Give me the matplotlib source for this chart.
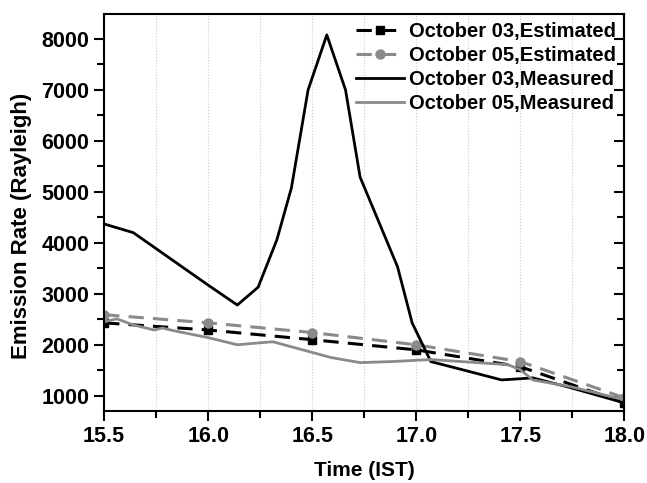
import numpy as np
import matplotlib.pyplot as plt
from matplotlib.ticker import MultipleLocator

plt.rcParams['font.family'] = ['Liberation Sans', 'DejaVu Sans']
plt.rcParams['font.weight'] = 'bold'

# measured, October 03
t_m03 = [15.5, 15.64, 16.0, 16.14, 16.24, 16.33, 16.40, 16.48, 16.57, 16.66, 16.73, 16.91, 16.98, 17.07, 17.26, 17.41, 17.56, 17.74, 18.0]
r_m03 = [4370, 4200, 3170, 2780, 3130, 4060, 5080, 7000, 8080, 7000, 5290, 3530, 2430, 1670, 1470, 1310, 1350, 1160, 860]

# measured, October 05
t_m05 = [15.5, 15.56, 15.64, 15.74, 15.78, 15.83, 16.0, 16.14, 16.31, 16.59, 16.73, 16.88, 17.07, 17.44, 17.5, 17.56, 17.74, 18.0]
r_m05 = [2450, 2510, 2390, 2290, 2330, 2280, 2140, 2000, 2060, 1750, 1650, 1670, 1710, 1610, 1510, 1310, 1180, 920]

# estimated (half hourly)
t_est = [15.5, 16.0, 16.5, 17.0, 17.5, 18.0]
r_e03 = [2430, 2290, 2100, 1900, 1570, 860]
r_e05 = [2590, 2430, 2240, 2000, 1670, 960]

fig = plt.figure(figsize=(6.47, 4.83), dpi=100)
ax = fig.add_axes([0.161, 0.149, 0.804, 0.822])

ax.plot(t_est, r_e03, color='black', linestyle=(0, (5, 3)), linewidth=2.2,
        marker='s', markersize=5.5, label='October 03,Estimated')
ax.plot(t_est, r_e05, color='#8a8a8a', linestyle=(0, (5, 3)), linewidth=2.2,
        marker='o', markersize=6.5, label='October 05,Estimated')
ax.plot(t_m03, r_m03, color='black', linewidth=2.0, label='October 03,Measured')
ax.plot(t_m05, r_m05, color='#8a8a8a', linewidth=2.0, label='October 05,Measured')

ax.set_xlim(15.5, 18.0)
ax.set_ylim(700, 8490)
ax.xaxis.set_major_locator(MultipleLocator(0.5))
ax.xaxis.set_minor_locator(MultipleLocator(0.25))
ax.yaxis.set_minor_locator(MultipleLocator(500))
ax.set_yticks(range(1000, 8001, 1000))
ax.xaxis.set_major_formatter(plt.FormatStrFormatter('%.1f'))

ax.grid(True, which='both', axis='x', color='#cccccc', linestyle=':', linewidth=0.8)

ax.tick_params(which='both', direction='out', width=1.5, labelsize=15.5)
ax.tick_params(which='major', length=7)
ax.tick_params(which='minor', length=5)

sec = ax.secondary_yaxis('right')
sec.yaxis.set_major_locator(MultipleLocator(1000))
sec.yaxis.set_minor_locator(MultipleLocator(500))
sec.tick_params(which='both', direction='in', width=1.5, labelright=False)
sec.tick_params(which='major', length=7)
sec.tick_params(which='minor', length=5)
sec.spines['right'].set_linewidth(1.5)

for s in ax.spines.values():
    s.set_linewidth(1.5)

ax.set_xlabel('Time (IST)', fontsize=15, fontweight='bold')
ax.set_ylabel('Emission Rate (Rayleigh)', fontsize=16, fontweight='bold')
ax.xaxis.set_label_coords(0.5, -0.127)
ax.yaxis.set_label_coords(-0.138, 0.466)

ax.legend(loc='upper right', frameon=False, fontsize=14.5, handlelength=2.4,
          handletextpad=0.25, labelspacing=0.25, borderaxespad=0.0,
          bbox_to_anchor=(1.0, 1.0))

fig.savefig('out.png', dpi=100)
